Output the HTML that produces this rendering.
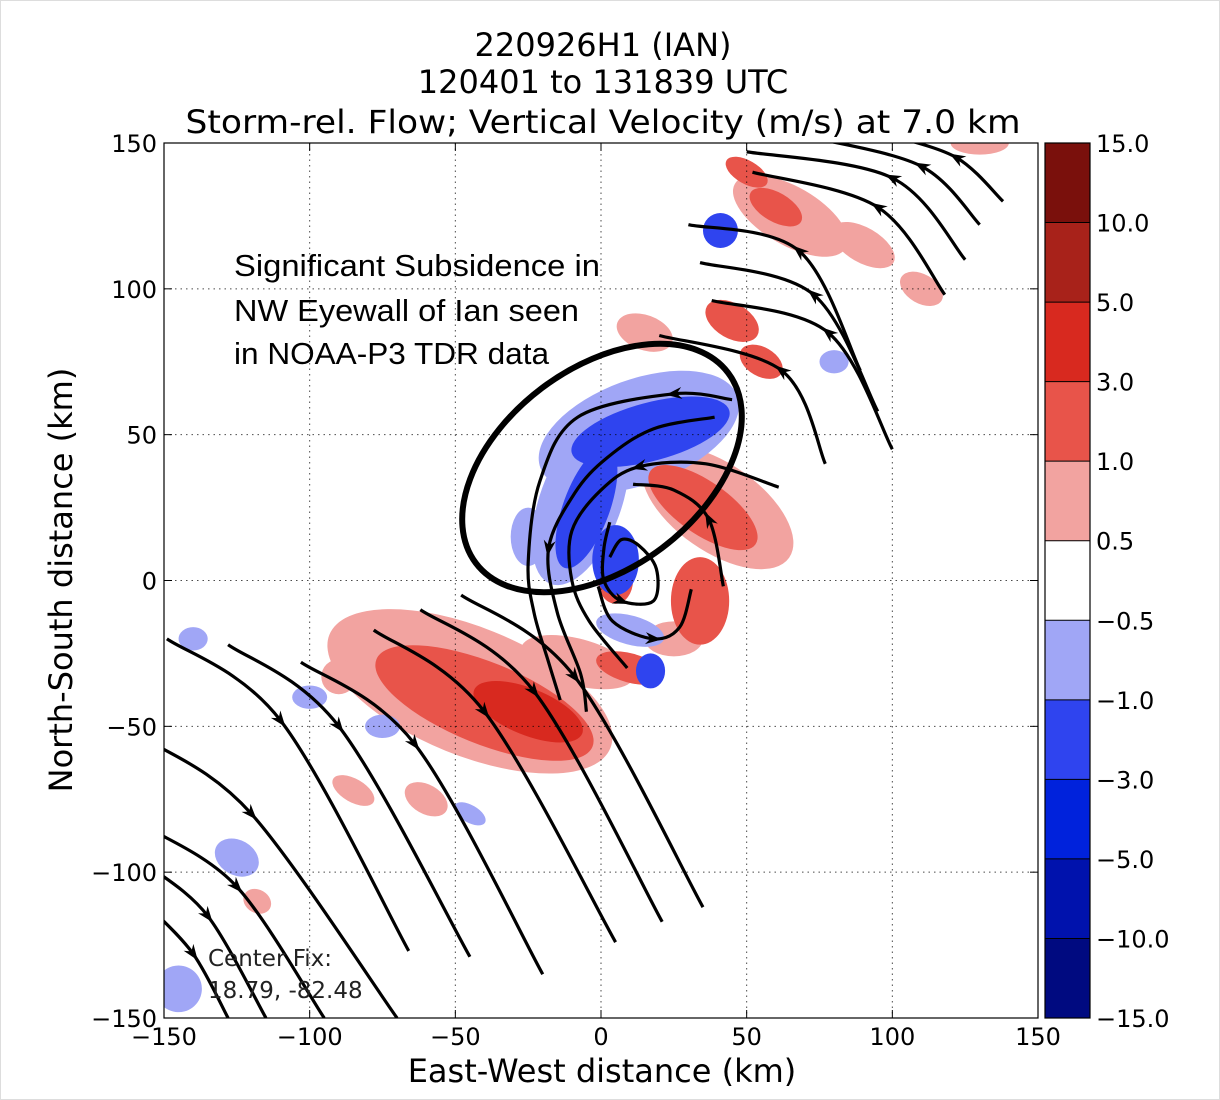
<!DOCTYPE html>
<html><head><meta charset="utf-8"><style>
html,body{margin:0;padding:0;background:#fff;}
svg{display:block;font-family:"DejaVu Sans","Liberation Sans",sans-serif;}
</style></head><body>
<svg id="chart" width="1220" height="1100" viewBox="0 0 1220 1100" xmlns="http://www.w3.org/2000/svg">
<rect x="0" y="0" width="1220" height="1100" fill="#fff"/>
<rect x="0.5" y="0.5" width="1219" height="1099" fill="none" stroke="#ddd"/>
<g font-size="32" text-anchor="middle" fill="#000">
<text x="603" y="56">220926H1 (IAN)</text>
<text x="603" y="93">120401 to 131839 UTC</text>
<text x="603" y="133" textLength="835" lengthAdjust="spacingAndGlyphs">Storm-rel. Flow; Vertical Velocity (m/s) at 7.0 km</text>
</g>
<defs><clipPath id="plotclip"><rect x="164" y="143" width="874" height="875"/></clipPath></defs>
<g id="field" clip-path="url(#plotclip)"></g>
<g id="grid"></g>
<g id="stream" clip-path="url(#plotclip)"></g>
<rect x="164" y="143" width="874" height="875" fill="none" stroke="#000" stroke-width="1.2"/>
<g id="ticks"></g>
<text x="602" y="1082" font-size="32" text-anchor="middle">East-West distance (km)</text>
<text transform="translate(72,580) rotate(-90)" font-size="32" text-anchor="middle">North-South distance (km)</text>
<g id="cbar"></g>
<ellipse cx="602" cy="468" rx="158" ry="100" transform="rotate(-37 602 468)" fill="none" stroke="#000" stroke-width="6"/>
<g font-family="'Liberation Sans',sans-serif" font-size="31" fill="#000">
<text x="234" y="276" textLength="366" lengthAdjust="spacingAndGlyphs">Significant Subsidence in</text>
<text x="234" y="321" textLength="345" lengthAdjust="spacingAndGlyphs">NW Eyewall of Ian seen</text>
<text x="234" y="364" textLength="315" lengthAdjust="spacingAndGlyphs">in NOAA-P3 TDR data</text>
</g>
<g font-size="23" fill="#222">
<text x="208" y="966">Center Fix:</text>
<text x="208" y="998">18.79, -82.48</text>
</g>
</svg>
<script>
const xTicks=[-150,-100,-50,0,50,100,150];
const yTicks=[-150,-100,-50,0,50,100,150];
const cbLevels=[15,10,5,3,1,0.5,-0.5,-1,-3,-5,-10,-15];
const cbLabels=["15.0","10.0","5.0","3.0","1.0","0.5","\u22120.5","\u22121.0","\u22123.0","\u22125.0","\u221210.0","\u221215.0"];
const cbColors=["#7a100c","#a8221a","#d8291f","#e8544a","#f2a3a0","#ffffff","#a0a6f6","#2f44ef","#0022dc","#0012ad","#000a80"];
// velocity patches: [x km, y km, rx km, ry km, rotation deg, value m/s]
const patchX=[-45,-40,-25,-60,-90,-85,-118,40,35,34,25,-8,10,5,65,60,50,110,15,45,55,130,90,-20,13,17,-7,-5,5,-25,10,17,41,80,-140,-100,-125,-145,-75,-45];
const patchY=[-38,-42,-45,-75,-33,-72,-110,25,25,-7,-20,-28,-30,0,125,128,140,100,85,89,75,150,115,-52,51,51,27,25,7,15,-17,-31,120,75,-20,-40,-95,-140,-50,-80];
const patchRX=[52,40,20,8,6,8,5,30,22,10,10,20,12,6,22,10,8,8,10,10,8,10,12,10,36,28,14,8,8,6,12,5,6,5,5,6,8,8,6,6];
const patchRY=[22,14,8,5,6,4,4,15,9,15,6,8,5,8,10,5,4,5,6,6,5,4,6,6,18,10,30,22,12,10,5,6,6,4,4,4,6,8,4,3];
const patchRot=[22,22,22,30,0,30,30,35,35,0,0,15,15,0,30,30,30,30,20,30,30,0,30,30,-20,-15,20,20,0,0,15,0,0,0,0,0,30,30,0,30];
const patchVal=[0.8,2,4,0.8,0.8,0.8,0.8,0.8,2,2,0.8,0.8,2,2,0.8,2,2,0.8,0.8,2,2,0.8,0.8,0.8,-0.8,-2,-0.8,-2,-2,-0.8,-0.8,-2,-2,-0.8,-0.8,-0.8,-0.8,-0.8,-0.8,-0.8];
// streamlines: arrays of [x km, y km] in flow order
const streamPaths=[
 [[89,72],[68,113],[30,122]],
 [[95,58],[73,98],[34,109]],
 [[100,45],[78,85],[38,96]],
 [[77,40],[62,72],[20,84]],
 [[125,110],[100,138],[50,147]],
 [[130,122],[110,142],[72,152]],
 [[138,130],[122,145],[98,153]],
 [[118,98],[95,128],[52,140]],
 [[-149,-20],[-110,-48],[-66,-127]],
 [[-128,-22],[-90,-50],[-45,-129]],
 [[-103,-28],[-64,-56],[-20,-135]],
 [[-78,-17],[-40,-45],[5,-124]],
 [[-62,-10],[-23,-38],[21,-117]],
 [[-48,-5],[-9,-33],[35,-112]],
 [[-155,-55],[-120,-80],[-70,-150]],
 [[-155,-85],[-125,-105],[-95,-150]],
 [[-155,-98],[-135,-115],[-115,-150]],
 [[-155,-112],[-140,-128],[-128,-150]],
 [[45,62],[25,64],[-8,56],[-21,34],[-25,6],[-23,-11],[-18,-28],[-14,-41]],
 [[39,56],[18,52],[2,42],[-9,30],[-18,11],[-15,-11],[-7,-32],[-5,-45]],
 [[61,32],[36,40],[13,39],[0,31],[-10,17],[-10,0],[-4,-14],[9,-30]],
 [[42,-2],[37,21],[25,31],[11,33]],
 [[3,20],[1,11],[1,0],[7,-7],[18,-7],[19,4],[13,12],[7,14],[3,8]],
 [[-1,-2],[4,-14],[18,-20],[27,-16],[31,-3]]
];
const arrowIdx=[1,1,1,1,1,1,1,1,1,1,1,1,1,1,1,1,1,1,1,4,2,1,3,2];
</script>
<script>
const NS="http://www.w3.org/2000/svg";
const X0=164,X1=1038,Y0=1018,Y1=143;
function sx(v){return X0+(v+150)/300*(X1-X0);}
function sy(v){return Y0-(v+150)/300*(Y0-Y1);}
function el(tag,attrs,parent){const e=document.createElementNS(NS,tag);for(const k in attrs)e.setAttribute(k,attrs[k]);parent.appendChild(e);return e;}
function colorFor(v){for(let i=0;i<cbLevels.length-1;i++){if(v<=cbLevels[i]&&v>cbLevels[i+1])return cbColors[i];}return "#fff";}
const kx=(X1-X0)/300, ky=(Y0-Y1)/300;
const field=document.getElementById('field');
const order=patchVal.map((v,i)=>i).sort((a,b)=>Math.abs(patchVal[a])-Math.abs(patchVal[b]));
order.forEach(i=>{
  const cx=sx(patchX[i]),cy=sy(patchY[i]);
  const e=el('ellipse',{cx:cx,cy:cy,rx:patchRX[i]*kx,ry:patchRY[i]*ky,fill:colorFor(patchVal[i]),transform:`rotate(${patchRot[i]} ${cx} ${cy})`},field);
  
  
});
const grid=document.getElementById('grid'),ticks=document.getElementById('ticks');
xTicks.forEach(t=>{
  const x=sx(t);
  if(t>-150&&t<150){const g=el('line',{x1:x,x2:x,y1:Y1,y2:Y0,stroke:'#000','stroke-width':1,'stroke-dasharray':'1.5,4',opacity:0.7},grid);
  }
  el('line',{x1:x,x2:x,y1:Y0,y2:Y0-8,stroke:'#000'},ticks);
  el('line',{x1:x,x2:x,y1:Y1,y2:Y1+8,stroke:'#000'},ticks);
  const tx=el('text',{x:x,y:1045,'font-size':24,'text-anchor':'middle'},ticks);
  tx.textContent=t<0?'\u2212'+(-t):String(t);
  
});
yTicks.forEach(t=>{
  const y=sy(t);
  if(t>-150&&t<150){const g=el('line',{x1:X0,x2:X1,y1:y,y2:y,stroke:'#000','stroke-width':1,'stroke-dasharray':'1.5,4',opacity:0.7},grid);
  }
  el('line',{x1:X0,x2:X0+8,y1:y,y2:y,stroke:'#000'},ticks);
  el('line',{x1:X1,x2:X1-8,y1:y,y2:y,stroke:'#000'},ticks);
  const tx=el('text',{x:157,y:y+9,'font-size':24,'text-anchor':'end'},ticks);
  tx.textContent=t<0?'\u2212'+(-t):String(t);
  
});
const stream=document.getElementById('stream');
streamPaths.forEach((p,pi)=>{
  const pts=p.map(q=>[sx(q[0]),sy(q[1])]);
  let d=`M${pts[0][0]},${pts[0][1]}`;
  for(let i=0;i<pts.length-1;i++){
    const p0=pts[Math.max(0,i-1)],p1=pts[i],p2=pts[i+1],p3=pts[Math.min(pts.length-1,i+2)];
    const c1=[p1[0]+(p2[0]-p0[0])/6,p1[1]+(p2[1]-p0[1])/6];
    const c2=[p2[0]-(p3[0]-p1[0])/6,p2[1]-(p3[1]-p1[1])/6];
    d+=` C${c1[0]},${c1[1]} ${c2[0]},${c2[1]} ${p2[0]},${p2[1]}`;
  }
  const s=el('path',{d:d,fill:'none',stroke:'#000','stroke-width':3.2},stream);
  
  
  const ai=Math.min(arrowIdx[pi],pts.length-1);
  const a=pts[ai],prev=pts[Math.max(0,ai-1)],next=pts[Math.min(pts.length-1,ai+1)];
  let dx=next[0]-prev[0],dy=next[1]-prev[1];const L=Math.hypot(dx,dy)||1;dx/=L;dy/=L;
  const tip=[a[0]+dx*8,a[1]+dy*8],b=[a[0]-dx*8,a[1]-dy*8];
  const arr=el('polygon',{points:`${tip[0]},${tip[1]} ${b[0]-dy*6},${b[1]+dx*6} ${a[0]-dx*3},${a[1]-dy*3} ${b[0]+dy*6},${b[1]-dx*6}`,fill:'#000'},stream);
  
  
});
const cb=document.getElementById('cbar');
const CX=1045,CW=45,CT=143,CB=1018,n=cbColors.length,h=(CB-CT)/n;
cbColors.forEach((c,i)=>{
  const r=el('rect',{x:CX,y:CT+i*h,width:CW,height:h+0.5,fill:c},cb);
  
  
  if(i>0)el('line',{x1:CX,x2:CX+CW,y1:CT+i*h,y2:CT+i*h,stroke:'#000','stroke-width':1},cb);
});
el('rect',{x:CX,y:CT,width:CW,height:CB-CT,fill:'none',stroke:'#000','stroke-width':1.2},cb);
cbLabels.forEach((l,i)=>{
  const t=el('text',{x:1096,y:CT+i*h+9,'font-size':24},cb);
  t.textContent=l;
  
  
});
</script>
</body></html>
